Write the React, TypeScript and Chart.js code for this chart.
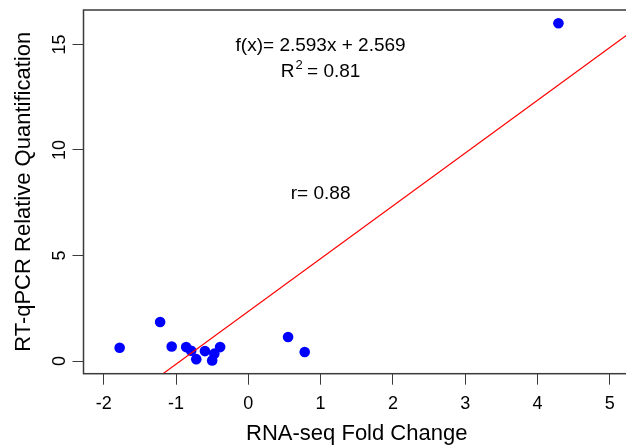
import React, { useEffect, useRef } from 'react';
import { Chart, registerables } from 'chart.js';

Chart.register(...registerables);

// Data
const xValues = [-1.78, -1.22, -1.06, -0.86, -0.79, -0.72, -0.6, -0.5, -0.47, -0.39, 0.55, 0.78, 4.29];
const yValues = [0.63, 1.85, 0.69, 0.66, 0.49, 0.09, 0.47, 0.03, 0.35, 0.66, 1.14, 0.43, 16.0];
const xTicks = [-2, -1, 0, 1, 2, 3, 4, 5];
const yTicks = [0, 5, 10, 15];
const xRange = [-2.28, 5.28];
const yRange = [-0.6, 16.63];
const fitSlope = 2.5;
const fitIntercept = 2.35;
const xTitle = 'RNA-seq Fold Change';
const yTitle = 'RT-qPCR Relative Quantification';
const eqText = 'f(x)= 2.593x + 2.569';
const r2Label = 'R';
const r2Sup = '2';
const r2Value = ' = 0.81';
const rText = 'r= 0.88';
const annotX = 1;
const eqY = 15;
const r2Y = 13.8;
const rY = 8;

const FONT = '"Liberation Sans", Arial, Helvetica, sans-serif';

const overlayPlugin = {
  id: 'overlay',
  afterDraw(chart: any) {
    const { ctx, chartArea } = chart;
    const xs = chart.scales.x;
    const ys = chart.scales.y;
    ctx.save();
    // box
    ctx.strokeStyle = '#3a3a3a';
    ctx.lineWidth = 1.5;
    ctx.strokeRect(chartArea.left, chartArea.top, chartArea.right - chartArea.left, chartArea.bottom - chartArea.top);

    ctx.fillStyle = '#000';
    // x tick labels
    ctx.font = `18px ${FONT}`;
    ctx.textAlign = 'center';
    ctx.textBaseline = 'alphabetic';
    xs.ticks.forEach((t: any) => {
      ctx.fillText(String(t.value), xs.getPixelForValue(t.value), 409);
    });
    // y tick labels (rotated)
    ys.ticks.forEach((t: any) => {
      ctx.save();
      ctx.translate(65, ys.getPixelForValue(t.value));
      ctx.rotate(-Math.PI / 2);
      ctx.fillText(String(t.value), 0, 0);
      ctx.restore();
    });
    // axis titles
    ctx.font = `22px ${FONT}`;
    ctx.fillText(xTitle, (chartArea.left + chartArea.right) / 2, 440);
    ctx.save();
    ctx.translate(30, (chartArea.top + chartArea.bottom) / 2);
    ctx.rotate(-Math.PI / 2);
    ctx.fillText(yTitle, 0, 0);
    ctx.restore();

    // annotations
    const fs = 19;
    const off = 0.358 * fs;
    const ax = xs.getPixelForValue(annotX);
    ctx.font = `${fs}px ${FONT}`;
    ctx.fillText(eqText, ax, ys.getPixelForValue(eqY) + off);
    ctx.fillText(rText, ax, ys.getPixelForValue(rY) + off);
    // R^2
    const by = ys.getPixelForValue(r2Y) + off;
    ctx.font = `${fs}px ${FONT}`;
    const wR = ctx.measureText(r2Label).width;
    const wV = ctx.measureText(r2Value).width;
    ctx.font = `13px ${FONT}`;
    const wS = ctx.measureText(r2Sup).width;
    const total = wR + wS + wV;
    let cx = ax - total / 2;
    ctx.textAlign = 'left';
    ctx.font = `${fs}px ${FONT}`;
    ctx.fillText(r2Label, cx, by);
    cx += wR;
    ctx.font = `13px ${FONT}`;
    ctx.fillText(r2Sup, cx + 1, by - 8);
    cx += wS;
    ctx.font = `${fs}px ${FONT}`;
    ctx.fillText(r2Value, cx, by);
    ctx.restore();
  },
};

export default function App() {
  const ref = useRef<HTMLCanvasElement>(null);
  useEffect(() => {
    if (!ref.current) return;
    const points = xValues.map((x, i) => ({ x, y: yValues[i] }));
    const linePts = xRange.map((x) => ({ x, y: fitSlope * x + fitIntercept }));
    const chart = new Chart(ref.current, {
      type: 'scatter',
      data: {
        datasets: [
          {
            label: 'fit',
            data: linePts,
            showLine: true,
            borderColor: '#ff0000',
            borderWidth: 1.2,
            pointRadius: 0,
            fill: false,
          },
          {
            label: 'genes',
            data: points,
            backgroundColor: '#0000ff',
            borderWidth: 0,
            pointRadius: 5.3,
            pointHoverRadius: 5.3,
          },
        ],
      },
      options: {
        responsive: false,
        maintainAspectRatio: false,
        animation: false,
        events: [],
        layout: { padding: { top: 10, right: 10, left: 0, bottom: 0 } },
        plugins: { legend: { display: false }, tooltip: { enabled: false } },
        scales: {
          x: {
            type: 'linear',
            min: xRange[0],
            max: xRange[1],
            afterBuildTicks: (s: any) => {
              s.ticks = xTicks.map((v) => ({ value: v }));
            },
            afterFit: (s: any) => {
              s.height = 74.3;
            },
            ticks: { display: false },
            grid: { display: true, drawOnChartArea: false, drawTicks: true, tickLength: 11, color: '#3a3a3a', lineWidth: 1 },
            border: { display: false },
          },
          y: {
            type: 'linear',
            min: yRange[0],
            max: yRange[1],
            afterBuildTicks: (s: any) => {
              s.ticks = yTicks.map((v) => ({ value: v }));
            },
            afterFit: (s: any) => {
              s.width = 83.5;
            },
            ticks: { display: false },
            grid: { display: true, drawOnChartArea: false, drawTicks: true, tickLength: 11, color: '#3a3a3a', lineWidth: 1 },
            border: { display: false },
          },
        },
      },
      plugins: [overlayPlugin],
    });
    return () => chart.destroy();
  }, []);
  return (
    <div style={{ position: 'fixed', left: 0, top: 0, width: 626, height: 448, overflow: 'hidden', background: '#fff' }}>
      <canvas ref={ref} width={640} height={448} style={{ display: 'block', width: 640, height: 448 }} />
    </div>
  );
}
